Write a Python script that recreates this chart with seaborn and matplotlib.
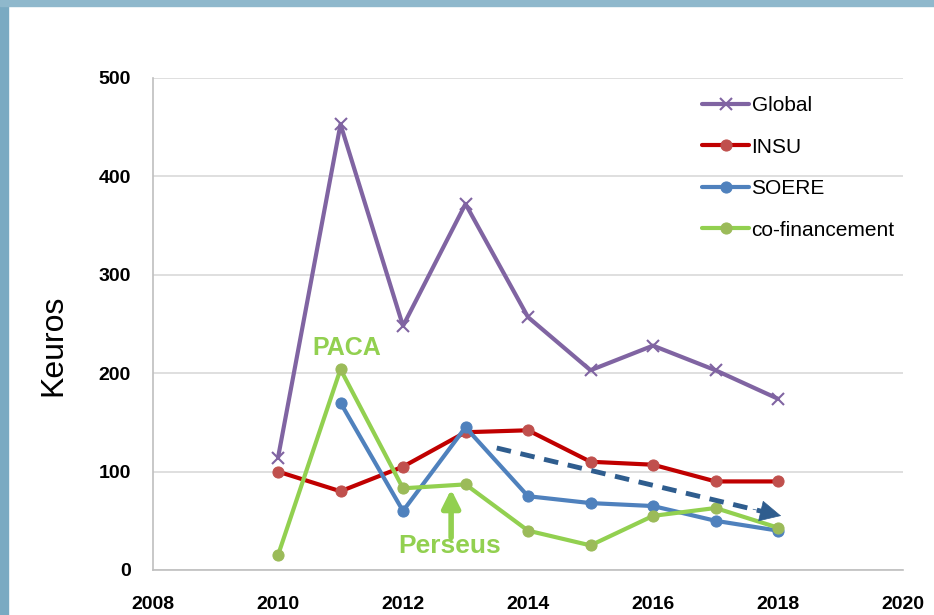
import matplotlib
matplotlib.use("Agg")
import matplotlib.pyplot as plt
import seaborn as sns
import pandas as pd
from matplotlib.patches import Rectangle

years = [2010, 2011, 2012, 2013, 2014, 2015, 2016, 2017, 2018]
global_vals = [114, 453, 248, 372, 257, 203, 228, 203, 174]
insu_vals = [100, 80, 105, 140, 142, 110, 107, 90, 90]
soere_years = [2011, 2012, 2013, 2014, 2015, 2016, 2017, 2018]
soere_vals = [170, 60, 145, 75, 68, 65, 50, 40]
cofin_vals = [15, 204, 83, 87, 40, 25, 55, 63, 43]
x_ticks = [2008, 2010, 2012, 2014, 2016, 2018, 2020]
y_ticks = [0, 100, 200, 300, 400, 500]

sns.set_theme(style="white")
plt.rcParams['font.family'] = ['Liberation Sans', 'DejaVu Sans']
plt.rcParams['text.color'] = 'black'

fig = plt.figure(figsize=(9.34, 6.15), dpi=100)
fig.patch.set_facecolor("white")
# border bands
fig.add_artist(Rectangle((0, 0), 8/934, 1, transform=fig.transFigure, color="#7aaac2", zorder=0))
fig.add_artist(Rectangle((0, 1 - 6/615), 1, 6/615, transform=fig.transFigure, color="#8fb8cc", zorder=0))

ax = fig.add_axes([153/934, 1 - 570/615, 750/934, 492/615])

df_g = pd.DataFrame({"year": years, "val": global_vals})
df_i = pd.DataFrame({"year": years, "val": insu_vals})
df_s = pd.DataFrame({"year": soere_years, "val": soere_vals})
df_c = pd.DataFrame({"year": years, "val": cofin_vals})

sns.lineplot(data=df_g, x="year", y="val", ax=ax, color="#8064A2", lw=3, marker="x",
             markersize=9, markeredgewidth=1.5, markeredgecolor="#8064A2", label="Global")
sns.lineplot(data=df_i, x="year", y="val", ax=ax, color="#C00000", lw=3, marker="o",
             markersize=8, markerfacecolor="#C0504D", markeredgecolor="#C0504D", label="INSU")
sns.lineplot(data=df_s, x="year", y="val", ax=ax, color="#4F81BD", lw=3, marker="o",
             markersize=8, markerfacecolor="#4F81BD", markeredgecolor="#4F81BD", label="SOERE")
sns.lineplot(data=df_c, x="year", y="val", ax=ax, color="#92D050", lw=3, marker="o",
             markersize=8, markerfacecolor="#9BBB59", markeredgecolor="#9BBB59", label="co-financement")

# dashed trend arrow: dashed shaft + solid head
arrow_x = [2013.5, 2017.75]
arrow_y = [124, 59.5]
ax.plot(arrow_x, arrow_y, color="#2F5D8E", lw=3.5, linestyle=(0, (3, 2)), solid_capstyle="butt",
        dash_capstyle="butt")
ax.annotate("", xy=(2018.05, 55), xytext=(2017.6, 61.8),
            arrowprops=dict(arrowstyle="-|>,head_length=1.2,head_width=0.6", color="#2F5D8E",
                            lw=0.5, shrinkA=0, shrinkB=0))
# Perseus arrow
ax.annotate("", xy=(2012.77, 82), xytext=(2012.77, 33),
            arrowprops=dict(arrowstyle="-|>,head_length=0.9,head_width=0.45", color="#92D050",
                            lw=4, shrinkA=0, shrinkB=0))
ax.text(2012.75, 24, "Perseus", color="#92D050", fontsize=19, fontweight="bold",
        ha="center", va="center")
ax.text(2011.1, 226, "PACA", color="#92D050", fontsize=18, fontweight="bold",
        ha="center", va="center")

ax.set_xlim(2008, 2020)
ax.set_ylim(0, 500)
ax.set_xticks(x_ticks)
ax.set_yticks(y_ticks)
ax.set_xticklabels([str(t) for t in x_ticks], fontsize=14, fontweight="bold", color="black")
ax.set_yticklabels([str(t) for t in y_ticks], fontsize=14, fontweight="bold", color="black")
ax.tick_params(axis="x", direction="inout", length=10, width=1, color="#BFBFBF", pad=14)
ax.tick_params(axis="y", length=0, pad=16)
ax.yaxis.grid(True, color="#D9D9D9", lw=1.2)
ax.xaxis.grid(False)
for s in ["top", "right"]:
    ax.spines[s].set_visible(False)
for s in ["left", "bottom"]:
    ax.spines[s].set_color("#BFBFBF")
    ax.spines[s].set_linewidth(1.2)
ax.set_xlabel("")
ax.set_ylabel("Keuros", fontsize=23, color="black")
ax.yaxis.set_label_coords(-0.113, 0.457)

leg = ax.legend(loc="upper right", bbox_to_anchor=(1.0, 0.98), frameon=False, fontsize=15,
                handlelength=2.3, handletextpad=0.1, labelspacing=1.08, borderaxespad=0)
for t in leg.get_texts():
    t.set_color("black")

fig.savefig("out.png", dpi=100)
